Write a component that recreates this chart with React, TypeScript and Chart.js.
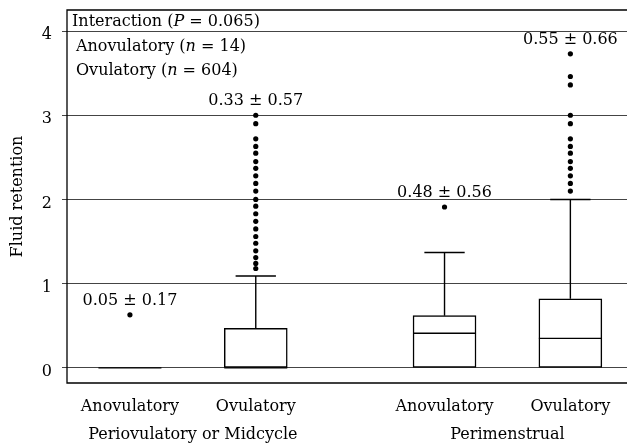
import React, { useEffect, useRef } from 'react';
import { Chart, registerables } from 'chart.js';

Chart.register(...registerables);

const FONT = '"DejaVu Serif", serif';

// ---- data ----
const categoryPositions = [1, 2, 3.5, 4.5];
const categoryLabels = ['Anovulatory', 'Ovulatory', 'Anovulatory', 'Ovulatory'];
const groupLabels = ['Periovulatory or Midcycle', 'Perimenstrual'];
const q1 = [0, 0, 0, 0];
const medians = [0, 0, 0.41, 0.35];
const q3 = [0, 0.47, 0.62, 0.82];
const whiskerLow = [0, 0, 0, 0];
const whiskerHigh = [0, 1.09, 1.37, 2.0];
const outliers1 = [0.63];
const outliers2 = [3.0, 2.9, 2.72, 2.63, 2.55, 2.45, 2.37, 2.28, 2.19, 2.1, 2.0, 1.92, 1.83, 1.74, 1.65, 1.56, 1.48, 1.39, 1.31, 1.24, 1.18];
const outliers3 = [1.91];
const outliers4 = [3.73, 3.46, 3.36, 3.0, 2.9, 2.72, 2.63, 2.55, 2.45, 2.37, 2.28, 2.19, 2.1];
const means = [0.05, 0.33, 0.48, 0.55];
const sds = [0.17, 0.57, 0.56, 0.66];
const yTicks = [0, 1, 2, 3, 4];
const legendGroups = ['Anovulatory', 'Ovulatory'];
const legendN = [14, 604];
const interactionP = 0.065;
const yTitle = 'Fluid retention';

const outlierSets = [outliers1, outliers2, outliers3, outliers4];

function drawRich(ctx: CanvasRenderingContext2D, parts: { t: string; i?: boolean }[], x: number, y: number) {
  let cx = x;
  for (const p of parts) {
    ctx.font = `${p.i ? 'italic ' : ''}16px ${FONT}`;
    ctx.fillText(p.t, cx, y);
    cx += ctx.measureText(p.t).width;
  }
}

const boxPlugin = {
  id: 'boxWhisker',
  afterDatasetsDraw(chart: any) {
    const ctx = chart.ctx as CanvasRenderingContext2D;
    const ys = chart.scales.y;
    const meta = chart.getDatasetMeta(0);
    ctx.save();
    ctx.strokeStyle = '#000';
    ctx.lineWidth = 1.4;
    meta.data.forEach((el: any, i: number) => {
      const w = el.width;
      const x = el.x;
      const ym = ys.getPixelForValue(medians[i]);
      ctx.beginPath();
      ctx.moveTo(x - w / 2, ym);
      ctx.lineTo(x + w / 2, ym);
      ctx.stroke();
      const cap = w * 0.32;
      if (whiskerHigh[i] > q3[i]) {
        const a = ys.getPixelForValue(q3[i]);
        const b = ys.getPixelForValue(whiskerHigh[i]);
        ctx.beginPath();
        ctx.moveTo(x, a);
        ctx.lineTo(x, b);
        ctx.moveTo(x - cap, b);
        ctx.lineTo(x + cap, b);
        ctx.stroke();
      }
      if (whiskerLow[i] < q1[i]) {
        const a = ys.getPixelForValue(q1[i]);
        const b = ys.getPixelForValue(whiskerLow[i]);
        ctx.beginPath();
        ctx.moveTo(x, a);
        ctx.lineTo(x, b);
        ctx.moveTo(x - cap, b);
        ctx.lineTo(x + cap, b);
        ctx.stroke();
      }
    });
    ctx.restore();
  },
  afterDraw(chart: any) {
    const ctx = chart.ctx as CanvasRenderingContext2D;
    const xs = chart.scales.x;
    const ys = chart.scales.y;
    const area = chart.chartArea;
    ctx.save();
    // frame
    ctx.strokeStyle = '#000';
    ctx.lineWidth = 1.3;
    ctx.beginPath();
    ctx.moveTo(chart.width + 2, area.top);
    ctx.lineTo(area.left, area.top);
    ctx.lineTo(area.left, area.bottom);
    ctx.lineTo(chart.width + 2, area.bottom);
    ctx.stroke();

    ctx.fillStyle = '#000';
    ctx.textBaseline = 'alphabetic';
    // mean ± sd labels
    ctx.textAlign = 'center';
    ctx.font = `16px ${FONT}`;
    categoryPositions.forEach((p, i) => {
      const top = Math.max(whiskerHigh[i], q3[i], ...outlierSets[i]);
      const px = xs.getPixelForValue(p);
      const py = ys.getPixelForValue(top) - 10;
      ctx.fillText(`${means[i].toFixed(2)} ± ${sds[i].toFixed(2)}`, px, py);
    });
    // group labels
    for (let g = 0; g < groupLabels.length; g++) {
      const mid = (categoryPositions[g * 2] + categoryPositions[g * 2 + 1]) / 2;
      ctx.fillText(groupLabels[g], xs.getPixelForValue(mid), 439);
    }
    // legend text
    ctx.textAlign = 'left';
    drawRich(ctx, [{ t: 'Interaction (' }, { t: 'P', i: true }, { t: ` = ${interactionP.toFixed(3)})` }], area.left + 5, area.top + 16);
    legendGroups.forEach((g, i) => {
      drawRich(ctx, [{ t: `${g} (` }, { t: 'n', i: true }, { t: ` = ${legendN[i]})` }], area.left + 9, area.top + 40.5 + i * 24);
    });
    ctx.restore();
  },
};

export default function App() {
  const ref = useRef<HTMLCanvasElement | null>(null);
  useEffect(() => {
    if (!ref.current) return;
    const outlierPoints: { x: number; y: number }[] = [];
    outlierSets.forEach((set, i) => set.forEach((v) => outlierPoints.push({ x: categoryPositions[i], y: v })));
    const chart = new Chart(ref.current, {
      type: 'bar',
      data: {
        datasets: [
          {
            type: 'bar',
            data: categoryPositions.map((x, i) => ({ x, y: [q1[i], q3[i]] })) as any,
            backgroundColor: '#fff',
            borderColor: '#000',
            borderWidth: 1.5,
            borderSkipped: false,
            barThickness: 63,
          } as any,
          {
            type: 'scatter',
            data: outlierPoints,
            pointRadius: 2.6,
            pointBackgroundColor: '#000',
            pointBorderWidth: 0,
            pointBorderColor: '#000',
            clip: false,
          } as any,
        ],
      },
      options: {
        animation: false,
        responsive: false,
        devicePixelRatio: 1,
        layout: { autoPadding: false, padding: { top: 10, left: 0, right: 0, bottom: 0 } },
        plugins: { legend: { display: false }, tooltip: { enabled: false } },
        scales: {
          x: {
            type: 'linear',
            min: 0.5,
            max: 4.95,
            offset: false,
            grid: { display: false, drawTicks: true, tickLength: 14 },
            border: { display: false },
            afterBuildTicks: (scale: any) => {
              scale.ticks = categoryPositions.map((v) => ({ value: v }));
            },
            afterFit: (scale: any) => {
              scale.height = 61;
              scale.paddingLeft = 0;
              scale.paddingRight = 0;
            },
            ticks: {
              autoSkip: false,
              maxRotation: 0,
              padding: 0,
              color: '#000',
              font: { family: FONT, size: 16 },
              callback: (v: any) => {
                const i = categoryPositions.indexOf(Number(v));
                return i >= 0 ? categoryLabels[i] : '';
              },
            },
          },
          y: {
            type: 'linear',
            min: -0.18,
            max: 4.25,
            grid: { color: '#444', lineWidth: 1, tickLength: 5, drawTicks: true },
            border: { display: false },
            afterBuildTicks: (scale: any) => {
              scale.ticks = yTicks.map((v) => ({ value: v }));
            },
            afterFit: (scale: any) => {
              scale.width = 67;
              scale.paddingTop = 0;
              scale.paddingBottom = 0;
            },
            ticks: {
              padding: 10,
              labelOffset: 4,
              color: '#000',
              font: { family: FONT, size: 16 },
              callback: (v: any) => String(v),
            },
            title: {
              display: true,
              text: yTitle,
              color: '#000',
              font: { family: FONT, size: 16 },
              padding: { top: 8, bottom: 0 },
            },
          },
        },
      } as any,
      plugins: [boxPlugin],
    });
    return () => chart.destroy();
  }, []);
  return (
    <div style={{ position: 'fixed', left: 0, top: 0, width: 627, height: 444, background: '#fff' }}>
      <canvas ref={ref} width={627} height={444} style={{ width: 627, height: 444, display: 'block' }} />
    </div>
  );
}
